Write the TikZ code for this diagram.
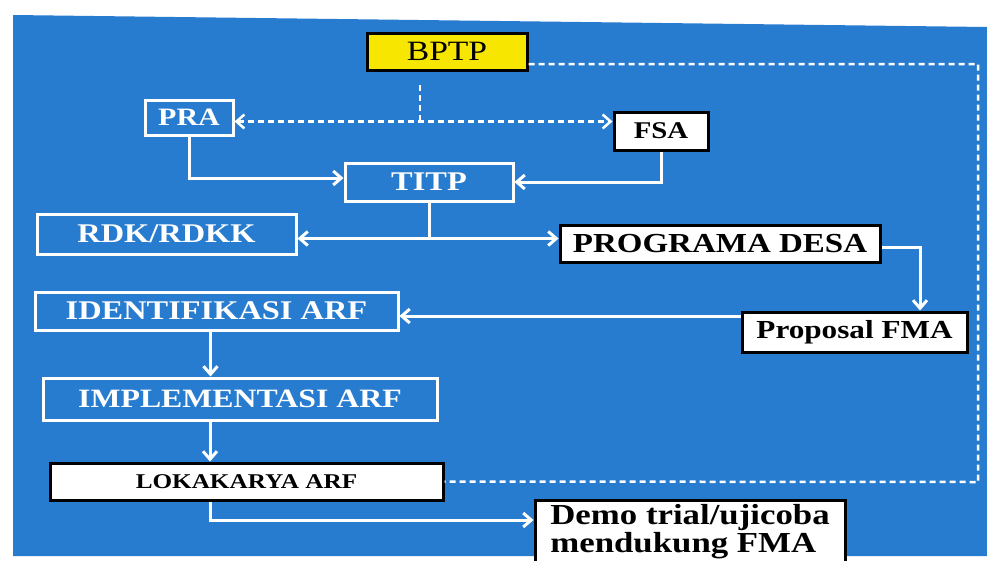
\documentclass[tikz,border=0pt]{standalone}
\usepackage{fontspec}
\setmainfont{Liberation Serif}[FakeStretch=1.2]
\usetikzlibrary{arrows.meta}
\definecolor{bgblue}{RGB}{40,124,208}
\definecolor{byellow}{RGB}{246,230,0}
\tikzset{
  wbox/.style={draw=white, line width=3pt, text=white, inner sep=0pt, font=\bfseries},
  kbox/.style={draw=black, fill=white, line width=3pt, text=black, inner sep=0pt, font=\bfseries},
  conn/.style={draw=white, line width=3pt},
  arr/.style={conn, -{Straight Barb[length=8pt,width=14pt]}},
  dsh/.style={draw=white, line width=2.5pt, dash pattern=on 6pt off 4pt},
}
\newcommand{\fs}[1]{\fontsize{#1}{#1}\selectfont}
\begin{document}
\begin{tikzpicture}[x=1pt,y=-1pt]
\useasboundingbox (0,0) rectangle (987,560);
\clip (0,0) rectangle (987,560);
\fill[white] (0,0) rectangle (987,560);
\fill[bgblue] (13,15) -- (987,27) -- (987,556) -- (13,556) -- cycle;

\node[kbox, fill=byellow, font=\mdseries, minimum width=160, minimum height=37] (BPTP) at (447,51.5) {\fs{28}BPTP};
\node[wbox, minimum width=88, minimum height=35] (PRA) at (189,117.5) {\fs{25}PRA};
\node[kbox, minimum width=94, minimum height=38] (FSA) at (661,131) {\fs{24}FSA};
\node[wbox, minimum width=168, minimum height=38] (TITP) at (429,182) {\fs{27}TITP};
\node[wbox, minimum width=259, minimum height=40] (RDK) at (166.5,234) {\fs{27}RDK/RDKK};
\node[kbox, minimum width=320, minimum height=37] (PROG) at (720,243.5) {\fs{27.5}PROGRAMA DESA};
\node[wbox, minimum width=363, minimum height=38] (IDENT) at (216.5,311) {\fs{27}IDENTIFIKASI ARF};
\node[kbox, minimum width=225, minimum height=40] (PROP) at (854.5,332) {\fs{26}Proposal FMA};
\node[wbox, minimum width=394, minimum height=42] (IMPL) at (240,399) {\fs{26.5}IMPLEMENTASI ARF};
\node[kbox, minimum width=393, minimum height=37] (LOKA) at (246.5,481.5) {\fs{21}LOKAKARYA ARF};
\node[kbox, minimum width=310, minimum height=64, align=left,
      font={\bfseries\fontsize{29}{28}\selectfont}] (DEMO) at (690,532) {Demo trial/ujicoba\\mendukung FMA};

% dashed BPTP loop
\coordinate (cr) at (978,64);
\coordinate (cb) at (978,482);
\draw[dsh] ([yshift=-12.5]BPTP.east) -- (cr) -- (cb) -- (LOKA.east);
\coordinate (vtop) at (420,85);
\draw[dsh] (vtop) -- ++(0,37);
\draw[dsh, {Straight Barb[length=8pt,width=14pt]}-{Straight Barb[length=8pt,width=14pt]}] ([yshift=-4]PRA.east) -- ([yshift=-4]PRA.east -| FSA.west);

% solid connectors
\draw[arr] (PRA.south) |- ([yshift=4]TITP.west);
\draw[arr] (FSA.south) |- (TITP.east);
\draw[conn] (TITP.south) -- ++(0,36) coordinate (tj);
\draw[arr] (tj) -- (tj -| RDK.east);
\draw[arr] (tj) -- (tj -| PROG.west);
\draw[arr] ([yshift=-3.5]PROG.east) -| ([xshift=65.5]PROP.north);
\path (PROP.west) ++(0,-16) coordinate (pw);
\draw[arr] (pw) -- (pw -| IDENT.east);
\draw[arr] ([xshift=-6]IDENT.south) -- ([xshift=-6]IDENT.south |- IMPL.north);
\draw[arr] ([xshift=-30]IMPL.south) -- ([xshift=-30]IMPL.south |- LOKA.north);
\draw[arr] ([xshift=-36]LOKA.south) |- ([yshift=12]DEMO.west);
\end{tikzpicture}
\end{document}
